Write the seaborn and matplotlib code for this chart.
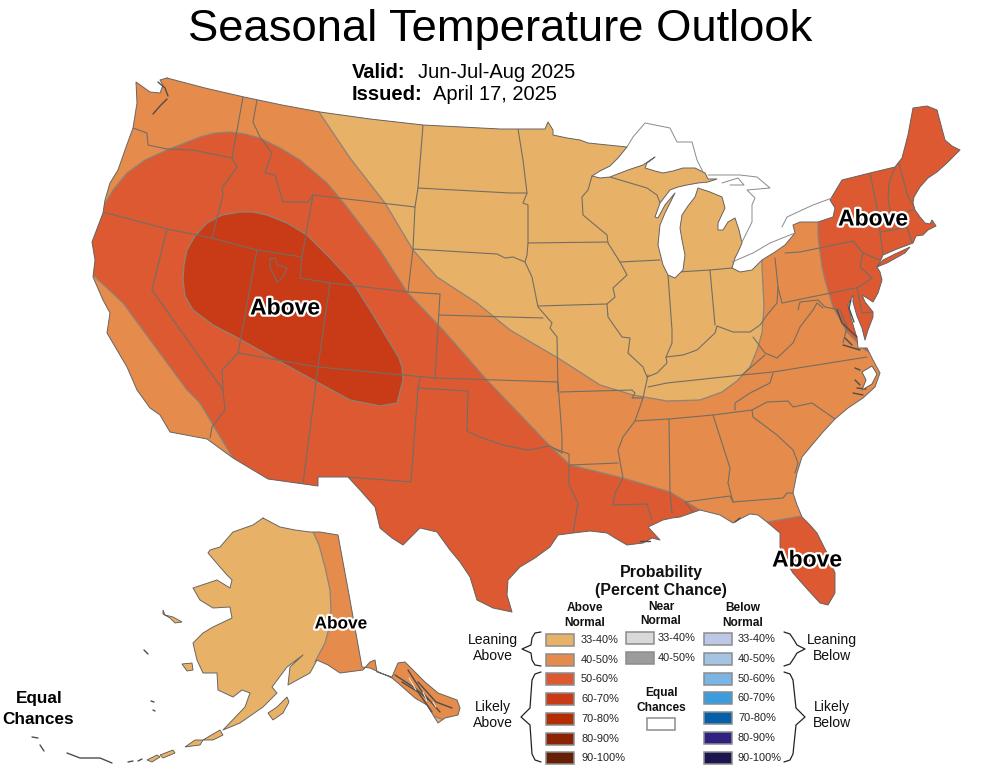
import numpy as np
import pandas as pd
import matplotlib
matplotlib.use("Agg")
import matplotlib.pyplot as plt
import matplotlib.patheffects as pe
from matplotlib.patches import Rectangle
import seaborn as sns

# all map geometry, in picture pixels
conus_outline = [
    (167,78),(205,88),(244,97),(282,105),(320,112),(370,119),(423,125),(500,129),(545,129),(548,122),(553,130),(553,135),
    (567,138),(580,140),(588,143),(607,145),(627,147),(618,158),(610,166),(600,171),(592,176),(600,178),(610,177),(615,175),
    (628,170),(643,165),(655,157),(647,163),(645,168),(655,171),(663,173),(673,171),(683,168),(695,168),(705,173),(708,179),(717,179),
    (708,182),(698,183),(687,185),(678,187),(670,190),(660,203),(655,217),(658,218),(665,205),(675,193),(665,213),(660,225),
    (658,245),(663,265),(668,275),(675,278),(683,270),(685,255),(682,240),(680,228),(682,215),(688,206),(695,197),(698,188),
    (710,192),(722,197),(725,208),(718,223),(718,230),(723,230),(728,222),(735,218),(739,230),(742,243),(738,252),(735,258),
    (732,268),(740,272),(752,270),(762,260),(775,252),(785,245),(795,233),(793,225),(800,222),(818,222),(833,217),(835,208),(830,200),(842,180),
    (870,173),(895,167),(902,158),(908,135),(913,108),(927,106),(937,110),(941,125),(945,140),(952,146),(960,150),(947,163),
    (937,172),(928,178),(920,187),(914,197),(913,203),(915,210),(920,217),(925,223),(930,224),(932,220),(936,226),(928,230),
    (923,235),(916,236),(913,243),(897,249),(883,255),(880,262),(877,267),(880,272),(882,280),(878,293),(873,302),(867,298),
    (862,295),(865,302),(873,312),(873,317),(868,330),(865,340),(862,328),(857,316),(853,302),(853,295),(848,305),(851,318),
    (854,328),(857,338),(858,348),(867,348),(873,360),(880,373),(875,387),(863,398),(848,408),(835,419),(823,432),(812,445),
    (802,457),(797,473),(793,493),(797,505),(802,517),(810,525),(817,533),(827,553),(835,573),(835,593),(828,605),(820,603),
    (808,590),(793,573),(785,560),(780,547),(780,533),(767,522),(758,515),(750,514),(740,519),(733,523),(720,515),(700,510),
    (680,517),(672,518),(663,520),(648,527),(660,540),(652,538),(643,543),(627,545),(615,538),(607,533),(590,531),(573,533),(558,535),
    (550,547),(535,558),(520,567),(508,580),(507,595),(512,612),(493,608),(477,600),(470,577),(460,562),(450,550),(437,532),
    (420,528),(403,545),(392,538),(380,528),(375,507),(360,490),(348,477),(318,477),(318,486),(268,479),(233,458),(207,439),
    (170,432),(160,415),(150,408),(137,390),(127,367),(107,333),(110,313),(103,300),(93,277),(95,260),(92,242),(103,213),
    (105,200),(110,183),(118,170),(125,150),(133,128),(137,103),(136,82),(150,92),(160,93),(163,85),(160,80),
]
long_island = [(877,267),(883,260),(895,254),(910,247),(905,253),(887,263)]
nc_sound = [(862,372),(872,366),(877,374),(872,384),(862,390),(866,380)]

alaska_outline = [
    (263,518),(253,525),(233,532),(220,547),(210,550),(208,553),(220,567),(227,575),(232,580),(230,588),(217,580),(193,588),
    (200,600),(213,608),(230,607),(232,618),(213,627),(203,633),(193,643),(197,660),(203,673),(217,673),(218,690),(233,697),
    (242,690),(250,693),(245,707),(223,730),(240,723),(263,707),(277,693),(272,687),(287,667),(303,655),(290,667),(288,685),
    (310,673),(317,660),(328,665),(340,673),(363,670),(370,662),(375,660),(377,672),(392,677),(398,663),(405,662),(425,682),
    (438,693),(457,700),(460,708),(458,715),(445,718),(438,723),(427,705),(415,698),(398,683),(392,678),(370,668),(362,667),
    (350,600),(338,535),(320,532),(310,532),(295,530),(280,527),
]
alaska_islands = [
    [(163,610),(165,615),(173,617),(182,622),(175,623),(170,618),(163,614)],
    [(182,664),(192,663),(193,670),(187,671)],
    [(268,713),(277,707),(287,697),(289,702),(283,713),(273,720)],
    [(185,747),(195,740),(203,740),(200,745)],
    [(203,740),(220,730),(223,735),(213,740)],
    [(147,760),(157,755),(160,757),(152,762)],
    [(160,755),(173,750),(175,753),(163,758)],
]
coast_scraps = [
    [(67,753),(80,758),(100,758),(112,763)], [(32,737),(38,738)], [(40,745),(44,751)], [(128,762),(133,761)],
    [(138,761),(142,759)], [(144,650),(148,654)], [(151,701),(154,702)], [(153,710),(155,711)],
    [(158,82),(165,88),(168,96)], [(153,114),(160,106),(167,99)],
    [(837,310),(842,323),(857,337)], [(843,345),(860,350)], [(845,338),(852,345)],
    [(855,380),(860,385)], [(855,368),(860,370)], [(853,393),(863,395)], [(857,388),(866,389)],
    [(851,300),(849,308),(854,322)],
    [(395,675),(415,688),(428,700)], [(408,670),(422,692),(440,712)], [(418,682),(436,702),(452,708)],
    [(402,682),(418,692),(432,712)],
    [(740,518),(735,522)], [(640,541),(650,541)],
]
panhandle_flecks = [[(409,678),(416,690)], [(423,692),(427,701)], [(433,702),(436,707)]]

lakes_north_shore = [
    [(627,147),(633,137),(645,123),(670,128),(677,142),(692,142),(697,160),(703,172)],
    [(708,175),(740,175),(757,177),(770,188),(747,190),(755,198),(752,205),(752,222),(742,242)],
    [(722,183),(738,178),(744,185),(730,185)],
    [(732,262),(753,253),(770,243),(795,233)],
    [(782,227),(787,217),(813,205),(832,198)],
]

state_borders = [
    [(133,128),(147,133),(148,145),(167,149),(193,150),(232,158)],
    [(243,97),(232,158)],
    [(232,158),(237,167),(222,188),(223,195),(212,238)],
    [(103,212),(167,229),(212,238),(257,250),(302,257)],
    [(167,229),(152,290),(223,390),(225,410),(212,427),(210,438)],
    [(238,353),(222,370),(223,390)],
    [(257,250),(238,353)],
    [(330,283),(318,367),(303,484)],
    [(313,195),(302,257),(300,278),(330,283),(408,292),(440,294),(435,378)],
    [(238,353),(318,367),(435,378),(558,382)],
    [(257,100),(253,122),(260,137),(272,153),(265,173),(275,175),(283,202),(308,202),(313,195),(415,207),(413,249),(408,292)],
    [(423,125),(418,188),(415,207)],
    [(418,188),(510,193),(527,193)],
    [(413,249),(497,254),(505,258),(513,257),(525,262)],
    [(439,315),(543,318)],
    [(518,129),(523,160),(527,193),(523,203),(528,205),(528,243),(607,242)],
    [(528,243),(527,255),(525,262),(532,277),(538,307),(552,323),(550,328),(557,337),(558,392)],
    [(538,306),(607,304)],
    [(608,243),(620,262),(627,275),(613,288),(615,297),(607,304),(608,317),(622,337),(630,338),(628,353),(643,367),(647,377),
     (657,373),(667,363),(666,357),(683,355),(697,350),(715,333),(717,326),(733,332),(750,332),(760,325),(767,315),(777,303),(778,287),(775,258)],
    [(592,176),(588,190),(582,197),(583,215),(607,235),(608,243)],
    [(620,262),(660,260)],
    [(610,177),(647,188),(657,195),(660,203)],
    [(668,275),(672,330),(672,343),(666,357)],
    [(678,272),(710,270),(732,268)],
    [(710,270),(715,325)],
    [(778,287),(782,303),(855,288)],
    [(785,253),(800,252),(853,241),(863,253),(860,267),(872,278),(857,288)],
    [(863,253),(880,260)],
    [(870,173),(878,213),(880,232),(883,255)],
    [(895,167),(889,183),(888,200),(892,219)],
    [(881,232),(908,227)],
    [(892,218),(915,209)],
    [(898,160),(908,197),(915,208)],
    [(907,227),(912,243)],
    [(857,287),(862,313),(873,312)],
    [(798,310),(800,302),(818,300),(825,307),(840,310),(847,327),(843,343)],
    [(823,308),(817,303),(813,310),(800,327),(793,343),(777,358),(765,353),(753,337)],
    [(648,387),(667,383),(742,375),(773,372),(867,357)],
    [(742,375),(765,355)],
    [(635,421),(669,419),(713,415),(752,410),(767,402),(788,401),(793,407),(812,403),(835,419)],
    [(773,373),(770,383),(750,393),(735,403),(735,410)],
    [(752,410),(753,417),(777,435),(793,450),(798,463),(795,473)],
    [(713,415),(730,468),(728,483),(733,502),(783,498),(787,493),(795,493)],
    [(669,419),(670,492),(672,513)],
    [(685,502),(730,496),(733,502)],
    [(685,502),(693,512)],
    [(613,505),(647,504),(652,520)],
    [(648,375),(643,398),(635,421),(623,437),(618,450),(623,478),(615,493),(613,505)],
    [(570,465),(618,463)],
    [(560,392),(632,390),(635,393),(632,398),(643,398)],
    [(558,382),(562,437),(562,453)],
    [(553,448),(569,454),(569,485),(578,503),(573,533)],
    [(420,378),(418,388),(468,391),(467,431),(480,437),(503,445),(528,450),(550,446),(562,453)],
    [(418,388),(411,482),(348,477)],
    [(270,259),(275,258),(277,265),(287,268),(283,277),(277,282),(273,273),(270,268),(270,259)],
]

# forecast areas
leaning_area = [
    (319,100),(319,112),(350,158),(385,203),(413,250),(437,277),(477,303),(510,330),(558,358),(600,385),(633,395),(667,401),
    (700,400),(722,392),(737,381),(750,367),(757,350),(762,333),(764,307),(762,267),(762,100),
]
west_above_area = [
    (103,207),(113,190),(127,173),(145,160),(167,150),(200,137),(215,133),(230,132),(245,134),(260,138),(280,148),(300,160),(327,183),
    (343,202),(380,250),(407,292),(443,330),(487,380),(550,446),(570,465),(623,478),(670,492),(703,512),(720,560),(520,650),
    (300,560),(233,500),(233,458),(213,425),(200,403),(187,390),(123,303),(93,275),(60,275),(60,207),
]
center_above_area = [
    (240,212),(253,212),(267,215),(287,223),(307,235),(330,258),(353,283),(372,313),(390,343),(399,358),(402,367),(403,380),(397,403),
    (380,406),(350,400),(317,382),(277,360),(238,338),(213,325),(193,310),(185,296),(183,280),(184,265),(187,250),(195,236),(207,223),(222,215),
]
northeast_above_area = [
    (818,100),(980,90),(980,400),(865,350),(847,332),(833,307),(825,280),(822,267),(818,237),
]
florida_above_area = [(760,524),(767,522),(802,516),(900,500),(900,640),(760,640)]
alaska_east_area = [
    (310,525),(319,545),(325,567),(330,590),(331,610),(329,628),(325,643),(315,662),(340,680),(470,730),(470,650),(340,520),
]

# legend
above_colors = ["#E8B168", "#E58B4B", "#DC5931", "#C93B17", "#B32D05", "#8C2303", "#661E05"]
near_colors = ["#D9D9D9", "#9C9C9C"]
below_colors = ["#BCC8E6", "#A5C4E4", "#7CB4E4", "#3A9DDF", "#055FA9", "#2E2180", "#1C1650"]
range_labels = ["33-40%", "40-50%", "50-60%", "60-70%", "70-80%", "80-90%", "90-100%"]
braces = [
    [(541,632),(535,633),(532,638),(531,645),(522,649),(531,653),(532,660),(535,665),(541,666)],
    [(541,672),(535,674),(532,680),(530,708),(521,717),(530,725),(532,754),(535,760),(541,762)],
    [(784,632),(790,634),(794,640),(797,645),(805,649),(797,653),(794,658),(790,664),(784,666)],
    [(784,672),(790,674),(793,680),(796,708),(805,717),(796,725),(793,754),(790,760),(784,762)],
]

border_color = "#726e65"
zone_edge = "#8b8479"
font = "Liberation Sans"

sns.set_theme(style="white")
plt.rcParams["font.family"] = [font, "DejaVu Sans"]


def draw_lines(ax, segments, color, lw, clip=None):
    frames = [pd.DataFrame(seg, columns=["x", "y"]).assign(seg=i) for i, seg in enumerate(segments)]
    n_before = len(ax.lines)
    sns.lineplot(data=pd.concat(frames), x="x", y="y", units="seg", estimator=None, sort=False,
                 color=color, linewidth=lw, legend=False, ax=ax)
    for line in ax.lines[n_before:]:
        line.set_solid_joinstyle("round")
        if clip is not None:
            line.set_clip_path(clip)


def fill_zone(ax, pts, color, clip):
    xs, ys = zip(*pts)
    for patch in ax.fill(xs, ys, facecolor=color, edgecolor=zone_edge, linewidth=0.9, zorder=2):
        patch.set_clip_path(clip)


def label(ax, x, y, s, size, weight="bold", halo=True, color="black"):
    effects = [pe.withStroke(linewidth=3.2, foreground="white")] if halo else None
    ax.text(x, y, s, fontsize=size, fontweight=weight, ha="center", va="center", color=color,
            path_effects=effects, zorder=8)


fig = plt.figure(figsize=(10, 7.73), dpi=100)
ax = fig.add_axes([0, 0, 1, 1])

xs, ys = zip(*conus_outline)
conus = ax.fill(xs, ys, facecolor=above_colors[1], edgecolor="none", zorder=1)[0]
fill_zone(ax, leaning_area, above_colors[0], conus)
fill_zone(ax, west_above_area, above_colors[2], conus)
fill_zone(ax, center_above_area, above_colors[3], conus)
fill_zone(ax, northeast_above_area, above_colors[2], conus)
fill_zone(ax, florida_above_area, above_colors[2], conus)
xs, ys = zip(*long_island)
ax.fill(xs, ys, facecolor=above_colors[2], edgecolor="#5f5f5f", linewidth=0.6, zorder=3)
xs, ys = zip(*nc_sound)
ax.fill(xs, ys, facecolor="white", edgecolor="#5f5f5f", linewidth=0.7, zorder=3)

xs, ys = zip(*alaska_outline)
alaska = ax.fill(xs, ys, facecolor=above_colors[0], edgecolor="none", zorder=1)[0]
fill_zone(ax, alaska_east_area, above_colors[1], alaska)
for isl in alaska_islands:
    xs, ys = zip(*isl)
    ax.fill(xs, ys, facecolor=above_colors[0], edgecolor="#555555", linewidth=0.6, zorder=3)

draw_lines(ax, state_borders, border_color, 0.8, clip=conus)
draw_lines(ax, [conus_outline + conus_outline[:1], alaska_outline + alaska_outline[:1]], "#666666", 0.7)
draw_lines(ax, lakes_north_shore, "#8a8a8a", 0.7)
draw_lines(ax, coast_scraps, "#4d4d4d", 1.0)
draw_lines(ax, panhandle_flecks, "white", 0.6)
draw_lines(ax, braces, "#222222", 0.9)

label(ax, 500, 30, "Seasonal Temperature Outlook", 32.7, weight="normal", halo=False)
ax.text(352, 73, "Valid:", fontsize=14.5, fontweight="bold", va="center", color="black")
ax.text(418, 73, "Jun-Jul-Aug 2025", fontsize=14.5, va="center", color="black")
ax.text(352, 95, "Issued:", fontsize=14.5, fontweight="bold", va="center", color="black")
ax.text(433, 95, "April 17, 2025", fontsize=14.5, va="center", color="black")

label(ax, 285, 308, "Above", 16.5)
label(ax, 873, 219, "Above", 16.5)
label(ax, 807, 560, "Above", 16.5)
label(ax, 341, 624, "Above", 12.4)
label(ax, 39, 699, "Equal", 12.3, halo=False)
label(ax, 38, 719, "Chances", 12.3, halo=False)

# legend block
label(ax, 661, 572, "Probability", 11.5, halo=False, color="#111111")
label(ax, 661, 591, "(Percent Chance)", 11.5, halo=False, color="#111111")
for cx, top, first, second in [(585, 608, "Above", "Normal"), (661, 607, "Near", "Normal"), (743, 608, "Below", "Normal")]:
    label(ax, cx, top, first, 8.6, halo=False, color="#111111")
    label(ax, cx, top + 14.5, second, 8.6, halo=False, color="#111111")
for cx, kind in [(493, "Above"), (832, "Below")]:
    label(ax, cx, 640, "Leaning", 10.1, weight="normal", halo=False, color="#111111")
    label(ax, cx, 656, kind, 10.1, weight="normal", halo=False, color="#111111")
    label(ax, cx, 707, "Likely", 10.1, weight="normal", halo=False, color="#111111")
    label(ax, cx, 723, kind, 10.1, weight="normal", halo=False, color="#111111")
label(ax, 661, 693, "Equal", 8.6, halo=False, color="#111111")
label(ax, 661, 708, "Chances", 8.6, halo=False, color="#111111")


def swatch(ax, left, cy, color):
    ax.add_patch(Rectangle((left, cy - 6), 28, 12, facecolor=color, edgecolor="#8c8c8c", linewidth=1.1, zorder=5))


for i, (color, text) in enumerate(zip(above_colors, range_labels)):
    cy = 640 + i * 19.7
    swatch(ax, 546, cy, color)
    ax.text(581, cy, text, fontsize=7.9, va="center", color="#222222")
for i, (color, text) in enumerate(zip(below_colors, range_labels)):
    cy = 639 + i * 19.8
    swatch(ax, 704, cy, color)
    ax.text(738, cy, text, fontsize=7.9, va="center", color="#222222")
for i, (color, text) in enumerate(zip(near_colors, range_labels)):
    cy = 638 + i * 20
    swatch(ax, 626, cy, color)
    ax.text(658, cy, text, fontsize=7.9, va="center", color="#222222")
swatch(ax, 647, 724, "white")

ax.set_xlim(0, 1000)
ax.set_ylim(773, 0)
ax.axis("off")
fig.savefig("out.png", dpi=100, facecolor="white")
